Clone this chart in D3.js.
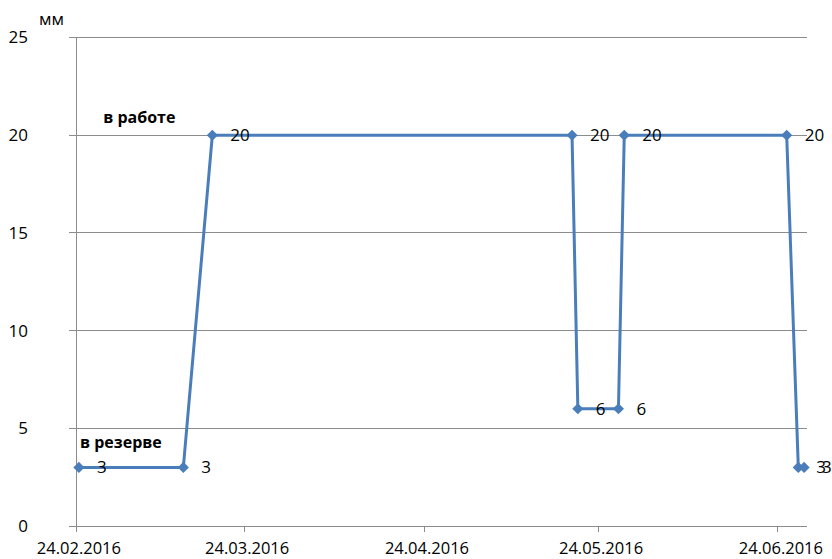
<!DOCTYPE html>
<html><head><meta charset="utf-8">
<script src="https://cdn.jsdelivr.net/npm/d3@7"></script>
<style>body{margin:0;background:#fff}svg{display:block}text{font-family:"Open Sans",sans-serif}</style>
</head><body>
<svg id="c" width="832" height="559"></svg>
<script>
const dates = ["2016-02-24","2016-03-13","2016-03-18","2016-05-19","2016-05-20","2016-05-27","2016-05-28","2016-06-25","2016-06-27","2016-06-28"];
const values = [3,3,20,20,6,6,20,20,3,3];
const xTicks = ["2016-02-24","2016-03-24","2016-04-24","2016-05-24","2016-06-24"];
const yTicks = [0,5,10,15,20,25];
const xDomain = ["2016-02-24","2016-06-29"];
const yUnit = "мм";
const annotations = [{text:"в работе", date:"2016-02-28", value:20.6},{text:"в резерве", date:"2016-02-24", value:4.0}];

const parse = d3.utcParse("%Y-%m-%d");
const fmt = d3.utcFormat("%d.%m.%Y");
const halfDay = 12*3600*1000;
const svg = d3.select("#c");
const x = d3.scaleUtc().domain(xDomain.map(parse)).range([76,807]);
const y = d3.scaleLinear().domain([0,25]).range([526,37.5]);
const xc = d => x(new Date(parse(d).getTime()+halfDay));

// gridlines
svg.append("g").selectAll("line").data(yTicks).join("line")
  .attr("x1",69).attr("x2",807).attr("y1",d=>y(d)).attr("y2",d=>y(d))
  .attr("stroke","#8c8c8c").attr("stroke-width",1).attr("shape-rendering","crispEdges");
// y axis line
svg.append("line").attr("x1",76).attr("x2",76).attr("y1",y(25)).attr("y2",y(0))
  .attr("stroke","#8c8c8c").attr("shape-rendering","crispEdges");
// x ticks
svg.append("g").selectAll("line").data(xTicks).join("line")
  .attr("x1",d=>x(parse(d))).attr("x2",d=>x(parse(d))).attr("y1",y(0)).attr("y2",y(0)+6)
  .attr("stroke","#8c8c8c").attr("shape-rendering","crispEdges");
// y labels
svg.append("g").selectAll("text").data(yTicks).join("text")
  .attr("x",28).attr("y",d=>y(d)).attr("dy","0.35em").attr("text-anchor","end")
  .attr("font-size",17).attr("fill","#000").text(d=>d);
// x labels
svg.append("g").selectAll("text").data(xTicks).join("text")
  .attr("x",d=>xc(d)).attr("y",554).attr("text-anchor","middle")
  .attr("font-size",16.5).attr("fill","#000").text(d=>fmt(parse(d)));
// unit
svg.append("text").attr("x",39).attr("y",25).attr("font-size",17).text(yUnit);

// line
const pts = dates.map((d,i)=>({d,v:values[i]}));
svg.append("path").datum(pts)
  .attr("d", d3.line().x(p=>xc(p.d)).y(p=>y(p.v)))
  .attr("fill","none").attr("stroke","#4a7ebb").attr("stroke-width",3).attr("stroke-linejoin","round");
svg.append("g").selectAll("path").data(pts).join("path")
  .attr("d", d3.symbol(d3.symbolSquare, 62))
  .attr("transform", p=>`translate(${xc(p.d)},${y(p.v)}) rotate(45)`)
  .attr("fill","#4a7ebb");
// data labels
svg.append("g").selectAll("text").data(pts).join("text")
  .attr("x",p=>xc(p.d)+18).attr("y",p=>y(p.v)).attr("dy","0.35em")
  .attr("font-size",17).attr("fill","#000").text(p=>p.v);
// annotations
svg.append("g").selectAll("text").data(annotations).join("text")
  .attr("x",a=>x(parse(a.date))+4).attr("y",a=>y(a.value))
  .attr("font-size",16).attr("font-weight","bold").attr("fill","#000").text(a=>a.text);
</script>
</body></html>
